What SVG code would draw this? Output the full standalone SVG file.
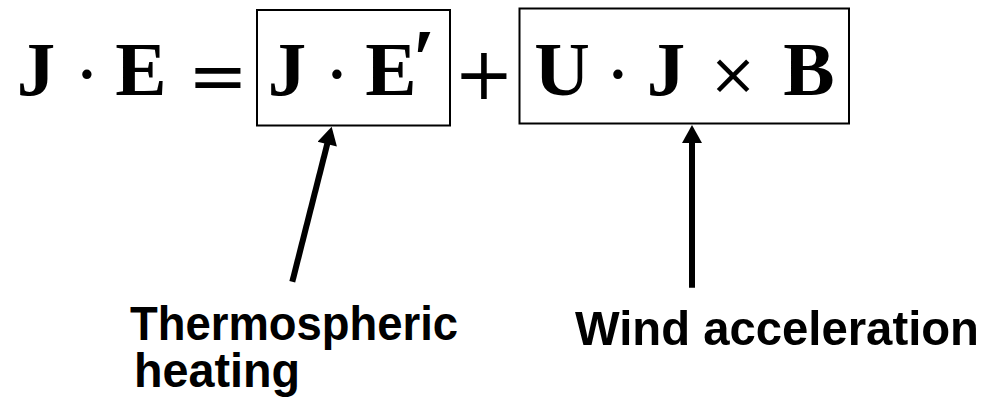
<svg xmlns="http://www.w3.org/2000/svg" width="986" height="402" viewBox="0 0 986 402">
<style>
.v{font-family:"Liberation Serif","Times New Roman",serif;font-weight:bold;font-size:77px;fill:#000;text-anchor:middle}
.op{font-family:"DejaVu Serif","Liberation Serif",serif;font-size:72px;fill:#000;text-anchor:middle}
.lbl{font-family:"Liberation Sans",Arial,sans-serif;font-weight:bold;font-size:49px;fill:#000}
.box{fill:none;stroke:#000;stroke-width:2}
.conn{stroke:#000;stroke-width:6;fill:none;marker-end:url(#ah)}
</style>
<defs>
<marker id="ah" markerUnits="userSpaceOnUse" markerWidth="20" markerHeight="20" refX="6" refY="10" orient="auto" viewBox="0 0 18 20">
<path d="M0,0 L18,10 L0,20 z" fill="#000"/>
</marker>
</defs>
<rect width="986" height="402" fill="#fff"/>
<g id="lhs">
<text class="v" x="36" y="95">J</text>
<text class="op" x="87" y="100">·</text>
<text class="v" x="141" y="95">E</text>
<text class="op" x="218" y="101">=</text>
</g>
<g id="term1">
<rect class="box" x="257" y="10" width="193" height="115.5"/>
<text class="v" x="287" y="95">J</text>
<text class="op" x="337" y="100">·</text>
<text class="v" x="391" y="95">E</text>
<text class="v" x="424" y="88" style="font-size:84px">′</text>
</g>
<text class="op" x="484" y="99">+</text>
<g id="term2">
<rect class="box" x="519.5" y="8.5" width="329.5" height="115"/>
<text class="v" x="562" y="95">U</text>
<text class="op" x="618" y="100">·</text>
<text class="v" x="666" y="95">J</text>
<text class="op" x="733" y="94" style="font-size:58px">×</text>
<text class="v" x="809" y="95">B</text>
</g>
<g id="label1">
<text class="lbl" x="130" y="339.5" textLength="328" lengthAdjust="spacingAndGlyphs">Thermospheric</text>
<text class="lbl" x="134" y="387" textLength="166" lengthAdjust="spacingAndGlyphs">heating</text>
</g>
<g id="label2">
<text class="lbl" x="575" y="345" textLength="404" lengthAdjust="spacingAndGlyphs">Wind acceleration</text>
</g>
<g id="connectors">
<line class="conn" x1="292.3" y1="281.7" x2="328.7" y2="138.3"/>
<line class="conn" x1="692" y1="287.7" x2="692" y2="137"/>
</g>
</svg>
